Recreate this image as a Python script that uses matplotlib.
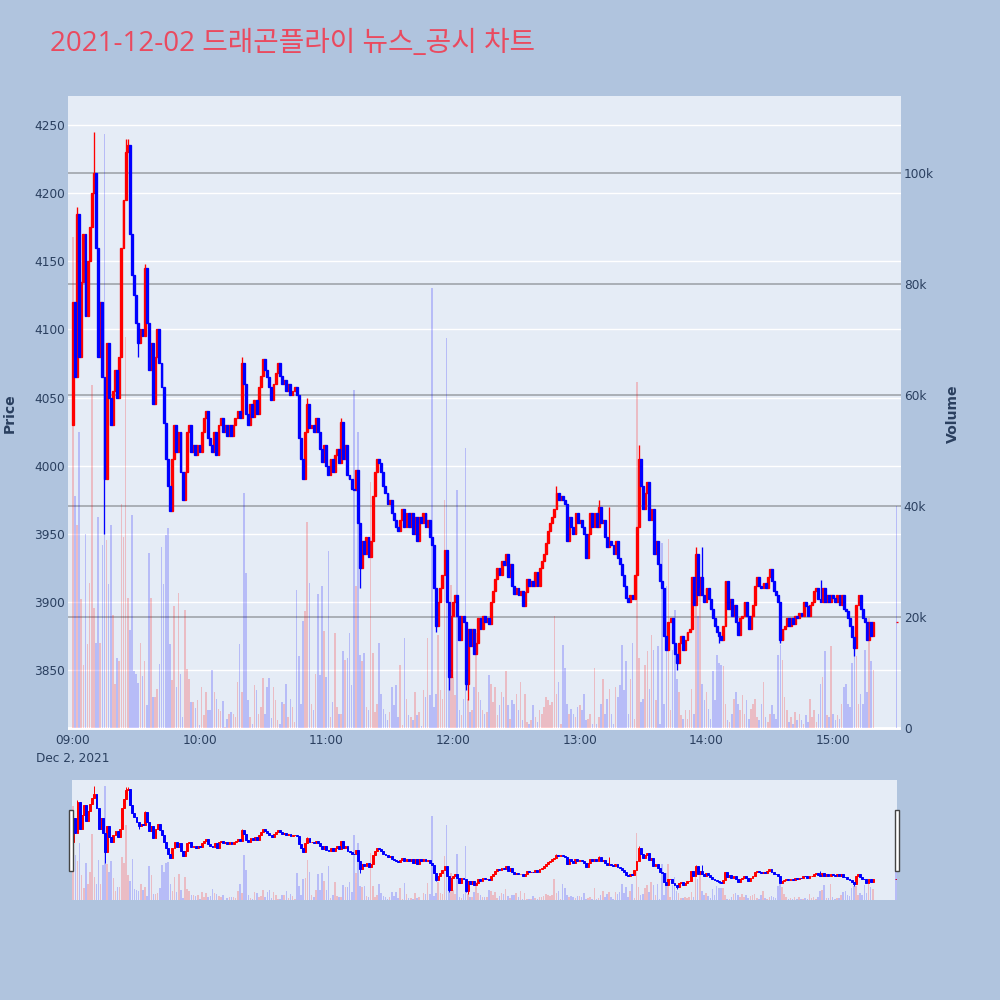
import matplotlib
matplotlib.use("Agg")
import matplotlib.pyplot as plt
from matplotlib.patches import Rectangle
from matplotlib.transforms import blended_transform_factory

plt.rcParams['font.family'] = ['DejaVu Sans', 'Noto Sans CJK KR']

# ---------------- data ----------------
title = "2021-12-02 드래곤플라이 뉴스_공시 차트"
date_label = "Dec 2, 2021"
hour_labels = ["09:00", "10:00", "11:00", "12:00", "13:00", "14:00", "15:00"]

first_open = 4030
# 1-minute closes from 09:00
close = [
    4120, 4065, 4185, 4080, 4135, 4170, 4110, 4150, 4175, 4200,
    4215, 4160, 4080, 4120, 4065, 3990, 4090, 4050, 4030, 4055,
    4070, 4050, 4080, 4160, 4195, 4230, 4235, 4170, 4140, 4125,
    4105, 4090, 4100, 4095, 4145, 4105, 4070, 4090, 4045, 4080,
    4100, 4075, 4058, 4031, 4005, 3985, 3967, 4005, 4030, 4010,
    4025, 3995, 3975, 3995, 4025, 4030, 4010, 4015, 4008, 4015,
    4010, 4025, 4035, 4040, 4020, 4015, 4010, 4025, 4008, 4030,
    4035, 4025, 4030, 4022, 4030, 4022, 4030, 4035, 4040, 4035,
    4075, 4060, 4038, 4030, 4045, 4036, 4048, 4038, 4058, 4066,
    4078, 4070, 4065, 4058, 4048, 4060, 4068, 4075, 4066, 4060,
    4063, 4055, 4060, 4052, 4055, 4058, 4052, 4020, 4005, 3990,
    4025, 4045, 4028, 4030, 4025, 4035, 4025, 4012, 4003, 4015,
    4000, 3993, 4005, 3995, 4008, 4012, 4002, 4032, 4005, 4015,
    3993, 3990, 3983, 3982, 3997, 3958, 3925, 3945, 3935, 3948,
    3933, 3945, 3978, 3995, 4005, 4002, 3995, 3985, 3980, 3972,
    3975, 3965, 3960, 3955, 3952, 3960, 3968, 3955, 3965, 3955,
    3965, 3950, 3962, 3945, 3962, 3958, 3965, 3955, 3960, 3948,
    3942, 3910, 3882, 3900, 3910, 3920, 3938, 3900, 3845, 3890,
    3900, 3905, 3890, 3872, 3890, 3885, 3840, 3880, 3868, 3880,
    3862, 3870, 3888, 3880, 3890, 3885, 3888, 3884, 3900, 3908,
    3917, 3925, 3920, 3930, 3927, 3935, 3918, 3928, 3912, 3906,
    3910, 3905, 3908, 3897, 3907, 3917, 3912, 3915, 3912, 3922,
    3912, 3925, 3930, 3935, 3943, 3952, 3958, 3962, 3968, 3980,
    3975, 3978, 3975, 3972, 3945, 3962, 3955, 3950, 3965, 3958,
    3960, 3955, 3950, 3932, 3950, 3965, 3955, 3965, 3955, 3970,
    3958, 3960, 3948, 3940, 3945, 3942, 3935, 3945, 3932, 3928,
    3920, 3912, 3903, 3900, 3905, 3902, 3920, 3955, 4005, 3985,
    3968, 3980, 3988, 3960, 3968, 3935, 3945, 3928, 3915, 3910,
    3875, 3865, 3885, 3888, 3870, 3862, 3855, 3870, 3875, 3865,
    3872, 3878, 3880, 3918, 3898, 3935, 3905, 3918, 3905, 3900,
    3910, 3902, 3895, 3888, 3882, 3878, 3875, 3872, 3882, 3915,
    3895, 3902, 3890, 3898, 3885, 3876, 3888, 3890, 3900, 3890,
    3880, 3890, 3898, 3912, 3918, 3912, 3910, 3914, 3910, 3918,
    3924, 3915, 3908, 3905, 3900, 3872, 3880, 3882, 3888, 3882,
    3888, 3884, 3890, 3888, 3892, 3890, 3900, 3897, 3890, 3898,
    3900, 3908, 3910, 3902, 3900, 3910, 3900, 3905, 3900, 3905,
    3903, 3900, 3905, 3898, 3905, 3895, 3893, 3888, 3882, 3874,
    3866, 3898, 3905, 3895, 3888, 3885, 3872, 3885, 3875, 3885,
]
# wick extremes that reach beyond the bodies (minute index -> price)
wick_high = {2: 4190, 10: 4245, 25: 4240, 26: 4240, 34: 4148, 80: 4080,
             111: 4050, 127: 4035, 229: 3985, 249: 3975, 254: 3970,
             268: 4015, 295: 3940, 298: 3940, 354: 3916}
wick_low = {15: 3950, 31: 4080, 136: 3910, 172: 3878, 178: 3835,
            186: 3835, 187: 3828, 286: 3850, 306: 3870, 335: 3870, 370: 3860}

# volume per minute, in thousands
volume_k = [
    88.5, 41.8, 36.6, 53.4, 23.2, 11.4, 34.9, 15.1, 26.2, 61.8,
    21.6, 15.4, 38.0, 15.3, 33.0, 107.0, 33.9, 25.9, 36.6, 20.4,
    8.0, 12.6, 12.0, 40.3, 34.5, 70.4,
    23.4, 17.7, 38.4, 10.2, 9.8, 8.1, 15.3, 9.4, 12.0, 4.1,
    31.5, 23.5, 5.6, 5.6, 7.0, 11.5, 32.7, 26.0, 34.8, 36.0,
    15.1, 8.6, 21.9, 7.4, 24.3, 9.7, 2.0, 21.3, 10.6, 8.8,
    4.7, 4.6, 3.6, 5.1, 0.5, 7.3, 2.4, 6.5, 3.2, 3.3,
    10.5, 6.5, 5.2, 3.4, 3.1, 4.9, 0.2, 1.6, 2.5, 2.9,
    2.6, 2.0, 8.3, 15.1, 6.4, 42.4, 28.0, 5.0, 2.0, 0.8,
    7.7, 6.8, 2.6, 3.8, 9.0, 2.6, 7.4, 9.0, 1.8, 7.4,
    5.0, 1.4, 0.8, 4.6, 4.4, 8.0, 2.0, 5.3, 3.8, 1.1,
    24.9, 13.0, 4.4, 19.3, 21.0, 37.2, 26.2, 4.3, 3.2, 9.7,
    24.1, 9.5, 25.6, 17.4, 9.2, 31.9, 2.0, 4.6, 17.2, 3.8,
    2.6, 2.6, 13.8,
    12.3, 12.6, 17.1, 7.7, 60.9, 25.5, 53.4, 13.2, 12.0, 13.5,
    3.8, 3.2, 44.4, 13.5, 2.9, 4.4, 15.3, 6.2, 3.5, 2.6,
    1.4, 2.9, 7.4, 4.1, 7.7, 2.0, 11.4, 0.5, 16.2, 5.3,
    2.3, 2.0, 1.4, 6.5, 2.3, 2.9, 0.3, 6.8, 5.6, 16.2,
    5.9, 79.2, 3.8, 6.2, 16.8, 6.8, 5.3, 41.1, 70.2, 17.7,
    25.8, 9.2, 5.9, 42.9, 3.2, 2.3, 5.3, 50.4, 5.3, 2.9,
    3.2, 7.4, 17.1, 6.5, 5.0, 3.2, 2.6, 2.9, 9.5, 8.0,
    4.7, 7.4, 2.3, 4.1, 6.5, 5.6, 10.2, 4.1, 1.7, 5.0,
    4.4, 6.2, 3.2, 8.3, 1.4, 6.2, 1.1, 0.8, 1.4, 4.1,
    2.0, 1.1, 3.2, 2.6, 3.8, 5.6, 5.0, 4.1, 4.7, 20.1,
    6.2, 8.3, 0.8, 15.0, 10.8, 4.4, 2.6, 3.5, 2.6, 2.0,
    3.8, 4.1, 3.2, 6.2, 1.4, 1.6, 2.6, 0.8, 10.8, 0.8,
    2.0, 4.4, 8.9, 2.6, 5.3, 7.1, 2.6, 0.8, 7.4, 5.6,
    7.7, 15.0,
    6.8, 12.0, 2.6, 8.9, 15.3, 1.7, 62.4, 12.6, 4.7, 5.3,
    11.4, 13.8, 7.1, 16.8, 14.1, 5.0, 14.7, 0.8, 33.4, 4.4,
    25.5, 34.0, 3.2, 14.1, 21.3, 8.9, 6.4, 2.3, 1.7, 3.2,
    1.7, 3.2, 7.1, 2.6, 27.0, 20.1, 25.2, 8.0, 5.0, 6.5,
    3.5, 1.7, 10.2, 5.0, 13.2, 11.7, 11.4, 11.1, 4.4, 1.4,
    1.1, 2.6, 5.3, 6.5, 4.4, 3.2, 5.9, 2.6, 5.0, 1.7,
    3.5, 4.4, 5.3, 2.0, 1.4, 4.4, 8.3, 2.0, 1.1, 2.6,
    4.1, 2.6, 1.7, 13.2, 15.0, 12.3, 5.6, 3.2, 1.1, 2.0,
    0.8, 2.9, 1.4, 2.6, 1.4, 0.8, 2.3, 1.1, 5.3, 2.0,
    3.2, 1.1, 2.6, 8.0, 9.2, 13.8, 2.3, 2.0, 14.7, 2.6,
    1.4, 2.3, 1.7, 4.4, 7.4, 8.0, 4.4, 3.8, 11.7, 13.2,
    12.9, 4.4, 6.2, 4.4, 14.1, 6.5, 19.8, 12.0, 10.5,
]
# 15:30 closing auction
auction_minute = 390
auction_price = 3885
auction_volume_k = 40.0

price_ticks = [3850, 3900, 3950, 4000, 4050, 4100, 4150, 4200, 4250]
volume_ticks_k = [0, 20, 40, 60, 80, 100]

# ---------------- assemble OHLC ----------------
n = min(len(close), len(volume_k))
xs = list(range(n)) + [auction_minute]
c = close[:n] + [auction_price]
o = [first_open] + close[:n - 1] + [auction_price]
vol = [v * 1000 for v in volume_k[:n]] + [auction_volume_k * 1000]
hi = [max(a, b) for a, b in zip(o, c)]
lo = [min(a, b) for a, b in zip(o, c)]
for k, v in wick_high.items():
    hi[k] = max(hi[k], v)
for k, v in wick_low.items():
    lo[k] = min(lo[k], v)

UP, DOWN = '#FF0000', '#0000FF'
VUP, VDOWN = (1, 0, 0, 0.2), (0, 0, 1, 0.2)
FONT_C = '#2a3f5f'
PLOT_BG = '#E5ECF6'


def draw_candles(axis, body_w, lw):
    for is_up, col in ((True, UP), (False, DOWN)):
        idx = [i for i in range(len(xs)) if (c[i] >= o[i]) == is_up]
        px = [xs[i] for i in idx]
        axis.vlines(px, [lo[i] for i in idx], [hi[i] for i in idx],
                    color=col, lw=lw, zorder=2)
        axis.bar(px, [abs(c[i] - o[i]) for i in idx], width=body_w,
                 bottom=[min(o[i], c[i]) for i in idx], color=col,
                 edgecolor=col, linewidth=lw, zorder=2)


def draw_volume(axis, w):
    cols = [VUP if c[i] > o[i] else VDOWN for i in range(len(xs))]
    axis.bar(xs, vol, width=w, color=cols, linewidth=0, zorder=2)


fig = plt.figure(figsize=(10, 10), dpi=100)
fig.patch.set_facecolor('#B0C4DE')

# ---------------- main chart ----------------
ax = fig.add_axes([0.068, 0.270, 0.833, 0.634])
ax.set_facecolor(PLOT_BG)
ax2 = ax.twinx()

ax.set_xlim(-2.27, 392.1)
ax.set_ylim(3806, 4271.3)
ax2.set_ylim(-360, 113870)

ax.set_axisbelow(True)
ax.yaxis.grid(True, color='white', lw=1)
ax.xaxis.grid(False)
trans = blended_transform_factory(ax.transAxes, ax2.transData)
for v in volume_ticks_k[1:]:
    ax.plot([0, 1], [v * 1000, v * 1000], transform=trans,
            color='#A0A4AB', lw=1.2, zorder=1)
ax.plot([0, 1], [0, 0], transform=trans, color='white', lw=2, zorder=1)

draw_candles(ax, 0.9, 0.95)
draw_volume(ax2, 0.75)

ax.set_yticks(price_ticks)
ax.set_yticklabels([str(p) for p in price_ticks])
ax2.set_yticks([v * 1000 for v in volume_ticks_k])
ax2.set_yticklabels([('%dk' % v) if v else '0' for v in volume_ticks_k])
hour_pos = [60 * i for i in range(len(hour_labels))]
ax.set_xticks(hour_pos)
ax.set_xticklabels([hour_labels[0] + '\n' + date_label] + hour_labels[1:])
for lbl in ax.get_xticklabels():
    lbl.set_linespacing(1.45)

for a in (ax, ax2):
    for s in a.spines.values():
        s.set_visible(False)
ax.tick_params(axis='both', length=0, labelsize=8.7, labelcolor=FONT_C)
ax.tick_params(axis='y', pad=2)
ax.tick_params(axis='x', pad=3)
ax2.tick_params(axis='y', length=0, labelsize=8.7, labelcolor=FONT_C, pad=2)

fig.text(0.010, 0.5865, 'Price', rotation=90, ha='center', va='center',
         fontsize=10.1, fontweight='bold', color=FONT_C)
fig.text(0.953, 0.5865, 'Volume', rotation=90, ha='center', va='center',
         fontsize=10.1, fontweight='bold', color=FONT_C)

fig.text(0.0505, 0.949, title, ha='left', va='baseline', fontsize=20.0,
         color='#EA4A5F', family=['Open Sans', 'Noto Sans CJK KR'])

# ---------------- range slider ----------------
axs = fig.add_axes([0.072, 0.100, 0.825, 0.120])
axs.set_facecolor(PLOT_BG)
axs2 = axs.twinx()
axs.set_xlim(-0.6, 390.5)
axs.set_ylim(3806, 4268)
axs2.set_ylim(0, 112600)
draw_candles(axs, 0.9, 0.7)
draw_volume(axs2, 0.75)
for a in (axs, axs2):
    a.set_xticks([])
    a.set_yticks([])
    for s in a.spines.values():
        s.set_visible(False)
for hx in (-0.0033, 0.998):
    axs2.add_patch(Rectangle((hx, 0.244), 0.0049, 0.506, transform=axs2.transAxes,
                             facecolor='white', edgecolor='#444444', lw=1,
                             clip_on=False, zorder=5))

fig.savefig('out.png', dpi=100, facecolor=fig.get_facecolor())
